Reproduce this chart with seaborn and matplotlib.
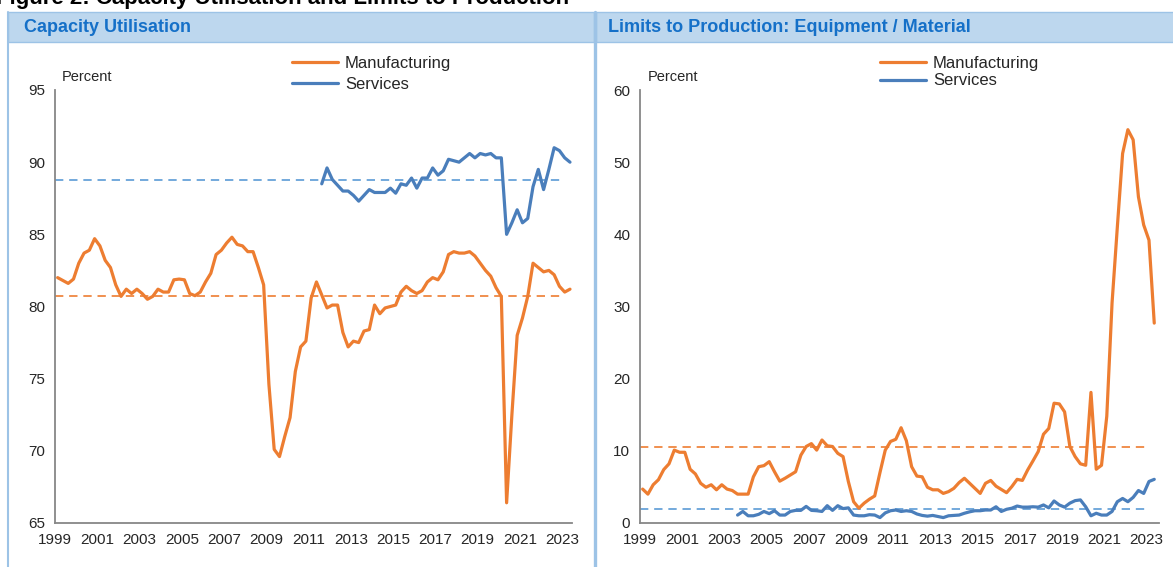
import numpy as np
import pandas as pd
import seaborn as sns
import matplotlib.pyplot as plt
from matplotlib.patches import Rectangle
from matplotlib.lines import Line2D
from matplotlib import font_manager

# quarterly data 1999Q1 - 2023Q2, plotted at mid-quarter
dates = 1999 + np.arange(98) / 4 + 0.125

# capacity utilisation, percent
cu_manuf = [82.0, 81.8, 81.6, 81.9, 83.0, 83.7, 83.9, 84.7, 84.2, 83.2,
            82.7, 81.5, 80.7, 81.2, 80.9, 81.2, 80.9, 80.5, 80.7, 81.2,
            81.0, 81.0, 81.85, 81.9, 81.85, 80.9, 80.75, 81.0, 81.7, 82.3,
            83.6, 83.9, 84.4, 84.8, 84.3, 84.2, 83.8, 83.8, 82.7, 81.5,
            74.6, 70.1, 69.6, 71.0, 72.3, 75.5, 77.2, 77.6, 80.6, 81.7,
            80.8, 79.9, 80.1, 80.1, 78.2, 77.2, 77.6, 77.5, 78.3, 78.4,
            80.1, 79.5, 79.9, 80.0, 80.1, 81.0, 81.4, 81.1, 80.9, 81.1,
            81.7, 82.0, 81.85, 82.4, 83.6, 83.8, 83.7, 83.7, 83.8, 83.5,
            83.0, 82.5, 82.1, 81.3, 80.7, 66.4, 72.5, 78.0, 79.2, 80.7,
            83.0, 82.7, 82.4, 82.5, 82.2, 81.4, 81.0, 81.2]
cu_serv_start = 50  # 2011Q3
cu_serv = [88.5, 89.6, 88.8, 88.4, 88.0, 88.0, 87.7, 87.3, 87.7, 88.1,
           87.9, 87.9, 87.9, 88.2, 87.85, 88.5, 88.4, 88.9, 88.2, 88.9,
           88.9, 89.6, 89.1, 89.4, 90.2, 90.1, 90.0, 90.3, 90.6, 90.3,
           90.6, 90.5, 90.6, 90.3, 90.3, 85.0, 85.8, 86.7, 85.8, 86.1,
           88.3, 89.5, 88.1, 89.5, 91.0, 90.8, 90.3, 90.0]
cu_manuf_avg = 80.7
cu_serv_avg = 88.75

# limits to production: equipment / material, percent
lim_manuf = [4.7, 4.0, 5.3, 6.0, 7.4, 8.2, 10.1, 9.8, 9.8, 7.45,
             6.8, 5.5, 4.95, 5.3, 4.6, 5.3, 4.7, 4.5, 4.0, 4.0,
             4.0, 6.4, 7.8, 7.95, 8.5, 7.1, 5.8, 6.2, 6.65, 7.1,
             9.4, 10.6, 11.0, 10.1, 11.5, 10.7, 10.6, 9.65, 9.2, 5.75,
             2.95, 2.05, 2.75, 3.3, 3.75, 7.0, 10.1, 11.3, 11.6, 13.2,
             11.4, 7.8, 6.5, 6.4, 4.95, 4.6, 4.6, 4.1, 4.35, 4.8,
             5.6, 6.2, 5.5, 4.8, 4.1, 5.5, 5.9, 5.1, 4.65, 4.2,
             5.05, 6.05, 5.9, 7.35, 8.6, 9.9, 12.3, 13.1, 16.6, 16.5,
             15.4, 10.6, 9.2, 8.2, 8.0, 18.1, 7.45, 8.0, 14.8, 30.5,
             41.0, 51.2, 54.5, 53.1, 45.2, 41.3, 39.2, 27.7]
lim_serv_start = 18  # 2003Q3
lim_serv = [1.1, 1.6, 1.0, 1.0, 1.2, 1.6, 1.3, 1.7, 1.1, 1.1,
            1.6, 1.75, 1.75, 2.3, 1.75, 1.7, 1.6, 2.4, 1.75, 2.4,
            2.0, 2.1, 1.1, 1.0, 1.0, 1.15, 1.1, 0.75, 1.4, 1.7,
            1.8, 1.6, 1.7, 1.6, 1.25, 1.05, 0.95, 1.05, 0.9, 0.75,
            1.0, 1.05, 1.1, 1.35, 1.55, 1.7, 1.7, 1.8, 1.8, 2.25,
            1.6, 1.9, 2.05, 2.35, 2.2, 2.2, 2.25, 2.2, 2.5, 2.1,
            3.05, 2.5, 2.2, 2.75, 3.1, 3.2, 2.25, 1.0, 1.35, 1.1,
            1.1, 1.6, 2.95, 3.4, 2.95, 3.55, 4.5, 4.1, 5.75, 6.05]
lim_manuf_avg = 10.6
lim_serv_avg = 1.9

year_ticks = list(range(1999, 2024))
year_labels = [str(y) if (y - 1999) % 2 == 0 else '' for y in year_ticks]

ORANGE = '#ED7D31'
BLUE = '#4A7EBB'
BLUE_DASH = '#5B9BD5'
GREY = '#878787'
HEAD_FILL = '#BDD7EE'
HEAD_EDGE = '#9DC3E6'
HEAD_TEXT = '#1570C8'

sns.set_style('white')
plt.rcParams['font.family'] = ['Liberation Sans', 'DejaVu Sans']
names = {f.name for f in font_manager.fontManager.ttflist}
narrow = 'Liberation Sans Narrow' if 'Liberation Sans Narrow' in names else 'Liberation Sans'


def make_frame(manuf, serv, serv_start):
    return pd.concat([
        pd.DataFrame({'date': dates, 'value': manuf, 'series': 'Manufacturing'}),
        pd.DataFrame({'date': dates[serv_start:], 'value': serv, 'series': 'Services'}),
    ])


def draw_panel(ax, df, manuf_avg, serv_avg, ylim, yticks, xmax, leg_x, leg_y, leg_space):
    ax.hlines(manuf_avg, 1999, 2023.05, colors=ORANGE, linestyles=(0, (5, 3.5)), lw=1.2, zorder=1)
    ax.hlines(serv_avg, 1999, 2023.05, colors=BLUE_DASH, linestyles=(0, (5, 3.5)), lw=1.2, zorder=1)
    sns.lineplot(data=df, x='date', y='value', hue='series',
                 palette={'Manufacturing': ORANGE, 'Services': BLUE},
                 lw=2.3, ax=ax, zorder=3)
    sns.move_legend(ax, 'upper left', bbox_to_anchor=(leg_x, leg_y), title=None,
                    frameon=False, fontsize=12, handlelength=2.8, handletextpad=0.4,
                    labelspacing=leg_space, borderaxespad=0, borderpad=0)
    ax.set_xlim(1999, xmax)
    ax.set_ylim(*ylim)
    ax.set_yticks(yticks)
    ax.set_xticks(year_ticks)
    ax.set_xticklabels(year_labels, family=narrow, fontsize=11)
    ax.set_xlabel('')
    ax.set_ylabel('')
    for s in ['top', 'right']:
        ax.spines[s].set_visible(False)
    for s in ['left', 'bottom']:
        ax.spines[s].set_color(GREY)
        ax.spines[s].set_linewidth(1.3)
    ax.tick_params(axis='both', direction='out', length=4, width=1, color=GREY,
                   labelcolor='#262626')
    ax.tick_params(axis='y', labelsize=11, pad=3)
    ax.tick_params(axis='x', pad=3)
    ax.text(0.014, 1.03, 'Percent', transform=ax.transAxes, fontsize=10.5,
            color='#262626', va='center')


W, H = 1173, 567
fig = plt.figure(figsize=(W / 100, H / 100), dpi=100)

# panel headers and frames
fig.add_artist(Rectangle((8 / W, 1 - 42 / H), 586 / W, 30 / H, transform=fig.transFigure,
                         facecolor=HEAD_FILL, edgecolor=HEAD_EDGE, lw=1))
fig.add_artist(Rectangle((596 / W, 1 - 42 / H), 580 / W, 30 / H, transform=fig.transFigure,
                         facecolor=HEAD_FILL, edgecolor=HEAD_EDGE, lw=1))
fig.add_artist(Line2D([8 / W, 8 / W], [0, 1 - 12 / H], transform=fig.transFigure,
                      color=HEAD_EDGE, lw=1.5))
fig.add_artist(Line2D([594.5 / W, 594.5 / W], [0, 1 - 12 / H], transform=fig.transFigure,
                      color=HEAD_EDGE, lw=2.4))
fig.text(24 / W, 1 - 28 / H, 'Capacity Utilisation', fontsize=13, fontweight='bold',
         color=HEAD_TEXT, va='center')
fig.text(608 / W, 1 - 28 / H, 'Limits to Production: Equipment / Material', fontsize=13,
         fontweight='bold', color=HEAD_TEXT, va='center')
# page title above the panels, only its lower part is inside the picture
fig.text(-4 / W, 1 - 4 / H, 'Figure 2: Capacity Utilisation and Limits to Production',
         fontsize=16, fontweight='bold', color='#000000', va='baseline')

ax1 = fig.add_axes([55 / W, 1 - 523 / H, 517 / W, 433 / H])
draw_panel(ax1, make_frame(cu_manuf, cu_serv, cu_serv_start), cu_manuf_avg, cu_serv_avg,
           (65, 95), [65, 70, 75, 80, 85, 90, 95], 2023.47, 0.458, 1.078, 0.34)

ax2 = fig.add_axes([640 / W, 1 - 523 / H, 519 / W, 433 / H])
draw_panel(ax2, make_frame(lim_manuf, lim_serv, lim_serv_start), lim_manuf_avg, lim_serv_avg,
           (0, 60), [0, 10, 20, 30, 40, 50, 60], 2023.6, 0.462, 1.079, 0.16)

fig.savefig('out.png', dpi=100)
